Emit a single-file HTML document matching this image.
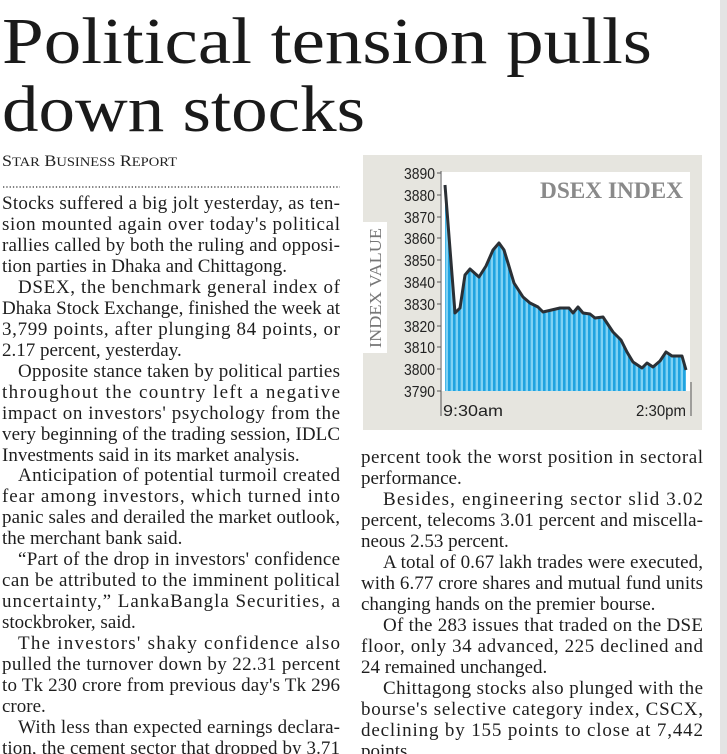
<!DOCTYPE html>
<html><head><meta charset="utf-8"><style>
html,body{margin:0;padding:0;background:#fff;}
svg{display:block;}
.b{font-family:"Liberation Serif",serif;font-size:19px;fill:#1e1e1e;}
.ax{font-family:"Liberation Sans",sans-serif;font-size:16px;fill:#222;}
</style></head><body>
<svg width="727" height="754" viewBox="0 0 727 754" xmlns="http://www.w3.org/2000/svg">
<defs>
<pattern id="st" width="5" height="10" patternUnits="userSpaceOnUse" x="443">
<rect width="5" height="10" fill="#7fd2f4"/>
<rect width="2.6" height="10" fill="#1fa3e0"/>
</pattern>
</defs>
<rect x="0" y="0" width="727" height="754" fill="#fff"/>
<rect x="720" y="0" width="7" height="754" fill="#e4e4e4"/>
<g font-family="Liberation Serif, serif" font-size="66" fill="#1a1a1a">
<text x="2" y="63" textLength="650" lengthAdjust="spacingAndGlyphs">Political tension pulls</text>
<text x="2" y="131" textLength="363" lengthAdjust="spacingAndGlyphs">down stocks</text>
</g>
<text x="2" y="166" font-family="Liberation Serif, serif" font-size="16" fill="#222" textLength="175" lengthAdjust="spacingAndGlyphs">S<tspan font-size="13">TAR</tspan> B<tspan font-size="13">USINESS</tspan> R<tspan font-size="13">EPORT</tspan></text>
<line x1="3" y1="187" x2="340" y2="187" stroke="#333" stroke-width="1.3" stroke-dasharray="1.3 2"/>

<g class="b">
<text x="2" y="209" textLength="338" lengthAdjust="spacing">Stocks suffered a big jolt yesterday, as ten-</text>
<text x="2" y="230" textLength="338" lengthAdjust="spacing">sion mounted again over today's political</text>
<text x="2" y="251" textLength="338" lengthAdjust="spacing">rallies called by both the ruling and opposi-</text>
<text x="2" y="272">tion parties in Dhaka and Chittagong.</text>
<text x="18" y="293" textLength="322" lengthAdjust="spacing">DSEX, the benchmark general index of</text>
<text x="2" y="314" textLength="338" lengthAdjust="spacing">Dhaka Stock Exchange, finished the week at</text>
<text x="2" y="335" textLength="338" lengthAdjust="spacing">3,799 points, after plunging 84 points, or</text>
<text x="2" y="356">2.17 percent, yesterday.</text>
<text x="18" y="377" textLength="322" lengthAdjust="spacing">Opposite stance taken by political parties</text>
<text x="2" y="398" textLength="338" lengthAdjust="spacing">throughout the country left a negative</text>
<text x="2" y="419" textLength="338" lengthAdjust="spacing">impact on investors' psychology from the</text>
<text x="2" y="440" textLength="338" lengthAdjust="spacing">very beginning of the trading session, IDLC</text>
<text x="2" y="461">Investments said in its market analysis.</text>
<text x="18" y="481" textLength="322" lengthAdjust="spacing">Anticipation of potential turmoil created</text>
<text x="2" y="502" textLength="338" lengthAdjust="spacing">fear among investors, which turned into</text>
<text x="2" y="523" textLength="338" lengthAdjust="spacing">panic sales and derailed the market outlook,</text>
<text x="2" y="544">the merchant bank said.</text>
<text x="18" y="565" textLength="322" lengthAdjust="spacing">“Part of the drop in investors' confidence</text>
<text x="2" y="586" textLength="338" lengthAdjust="spacing">can be attributed to the imminent political</text>
<text x="2" y="607" textLength="338" lengthAdjust="spacing">uncertainty,” LankaBangla Securities, a</text>
<text x="2" y="628">stockbroker, said.</text>
<text x="18" y="649" textLength="322" lengthAdjust="spacing">The investors' shaky confidence also</text>
<text x="2" y="670" textLength="338" lengthAdjust="spacing">pulled the turnover down by 22.31 percent</text>
<text x="2" y="691" textLength="338" lengthAdjust="spacing">to Tk 230 crore from previous day's Tk 296</text>
<text x="2" y="712">crore.</text>
<text x="18" y="733" textLength="322" lengthAdjust="spacing">With less than expected earnings declara-</text>
<text x="2" y="754" textLength="338" lengthAdjust="spacing">tion, the cement sector that dropped by 3.71</text>

<text x="361" y="463" textLength="342" lengthAdjust="spacing">percent took the worst position in sectoral</text>
<text x="361" y="484">performance.</text>
<text x="383" y="505" textLength="320" lengthAdjust="spacing">Besides, engineering sector slid 3.02</text>
<text x="361" y="526" textLength="342" lengthAdjust="spacing">percent, telecoms 3.01 percent and miscella-</text>
<text x="361" y="547">neous 2.53 percent.</text>
<text x="383" y="568" textLength="320" lengthAdjust="spacing">A total of 0.67 lakh trades were executed,</text>
<text x="361" y="589" textLength="342" lengthAdjust="spacing">with 6.77 crore shares and mutual fund units</text>
<text x="361" y="610">changing hands on the premier bourse.</text>
<text x="383" y="631" textLength="320" lengthAdjust="spacing">Of the 283 issues that traded on the DSE</text>
<text x="361" y="652" textLength="342" lengthAdjust="spacing">floor, only 34 advanced, 225 declined and</text>
<text x="361" y="673">24 remained unchanged.</text>
<text x="383" y="694" textLength="320" lengthAdjust="spacing">Chittagong stocks also plunged with the</text>
<text x="361" y="715" textLength="342" lengthAdjust="spacing">bourse's selective category index, CSCX,</text>
<text x="361" y="736" textLength="342" lengthAdjust="spacing">declining by 155 points to close at 7,442</text>
<text x="361" y="757">points.</text>
</g>

<!-- chart -->
<rect x="363" y="155" width="339" height="275" fill="#e6e5df"/>
<rect x="440" y="172" width="250" height="219" fill="#fff"/>
<rect x="363" y="222" width="24" height="131" fill="#fff"/>
<text transform="translate(381,288) rotate(-90)" text-anchor="middle" font-family="Liberation Serif, serif" font-size="17" fill="#777" textLength="120" lengthAdjust="spacingAndGlyphs">INDEX VALUE</text>
<text x="683" y="198" text-anchor="end" font-family="Liberation Serif, serif" font-size="23" font-weight="bold" fill="#8a8a8a" textLength="143" lengthAdjust="spacingAndGlyphs">DSEX INDEX</text>

<polygon fill="url(#st)" points="445,391 445,185 455,313 460,308 465,275 470,269 479,277 486,266 493,250 499,243 504,250 508,263 514,283 523,297 530,303 538,307 543,312 560,308 569,308 573,313 578,307 583,313 590,314 595,318 603,317 613,332 621,340 627,352 633,362 642,368 647,363 653,367 660,361 666,352 672,356 682,356 686,370 686,391"/>
<polyline fill="none" stroke="#2b3035" stroke-width="3" stroke-linejoin="round" points="445,185 455,313 460,308 465,275 470,269 479,277 486,266 493,250 499,243 504,250 508,263 514,283 523,297 530,303 538,307 543,312 560,308 569,308 573,313 578,307 583,313 590,314 595,318 603,317 613,332 621,340 627,352 633,362 642,368 647,363 653,367 660,361 666,352 672,356 682,356 686,370"/>

<g stroke="#555" stroke-width="1">
<line x1="441" y1="171" x2="441" y2="416"/>
<line x1="691" y1="382" x2="691" y2="416"/>
<line x1="437" y1="173" x2="441" y2="173"/><line x1="437" y1="195" x2="441" y2="195"/>
<line x1="437" y1="217" x2="441" y2="217"/><line x1="437" y1="238" x2="441" y2="238"/>
<line x1="437" y1="260" x2="441" y2="260"/><line x1="437" y1="282" x2="441" y2="282"/>
<line x1="437" y1="304" x2="441" y2="304"/><line x1="437" y1="326" x2="441" y2="326"/>
<line x1="437" y1="347" x2="441" y2="347"/><line x1="437" y1="369" x2="441" y2="369"/>
<line x1="437" y1="391" x2="441" y2="391"/>
</g>
<g class="ax" text-anchor="end">
<text x="435" y="179" textLength="31" lengthAdjust="spacingAndGlyphs">3890</text>
<text x="435" y="201" textLength="31" lengthAdjust="spacingAndGlyphs">3880</text>
<text x="435" y="223" textLength="31" lengthAdjust="spacingAndGlyphs">3870</text>
<text x="435" y="244" textLength="31" lengthAdjust="spacingAndGlyphs">3860</text>
<text x="435" y="266" textLength="31" lengthAdjust="spacingAndGlyphs">3850</text>
<text x="435" y="288" textLength="31" lengthAdjust="spacingAndGlyphs">3840</text>
<text x="435" y="310" textLength="31" lengthAdjust="spacingAndGlyphs">3830</text>
<text x="435" y="332" textLength="31" lengthAdjust="spacingAndGlyphs">3820</text>
<text x="435" y="353" textLength="31" lengthAdjust="spacingAndGlyphs">3810</text>
<text x="435" y="375" textLength="31" lengthAdjust="spacingAndGlyphs">3800</text>
<text x="435" y="397" textLength="31" lengthAdjust="spacingAndGlyphs">3790</text>
</g>
<text x="443" y="416" class="ax" textLength="60" lengthAdjust="spacingAndGlyphs">9:30am</text>
<text x="686" y="416" class="ax" text-anchor="end" textLength="50" lengthAdjust="spacingAndGlyphs">2:30pm</text>
</svg>
</body></html>
